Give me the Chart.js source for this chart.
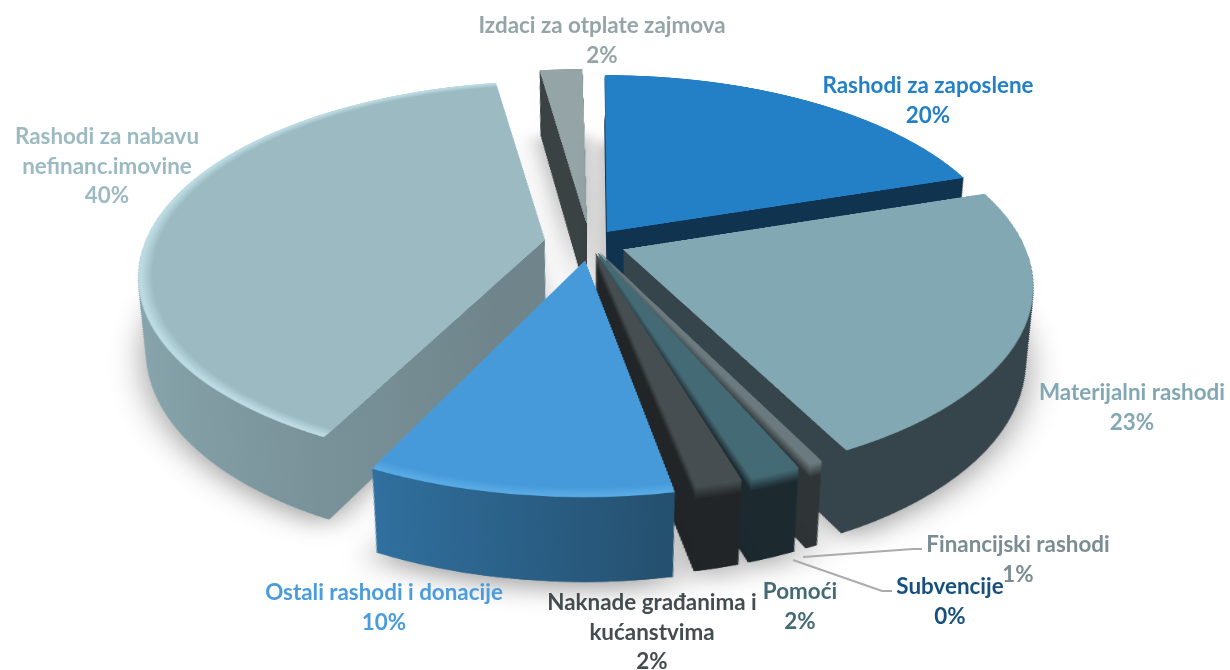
<!DOCTYPE html>
<html>
<head>
<meta charset="utf-8">
<script src="https://cdn.jsdelivr.net/npm/chart.js@4"></script>
<style>
html,body{margin:0;padding:0;background:#fff;width:1230px;height:670px;overflow:hidden}
#stage{position:relative;width:1230px;height:670px;overflow:hidden}
#pie{position:absolute;left:-110px;top:-457px;transform:perspective(2016px) rotateX(62deg);transform-origin:50% 50%}
.lab{position:absolute;font:bold 22.4px/29.5px Lato,sans-serif;text-align:center;transform:translateX(-50%)}
svg{position:absolute;left:0;top:0}
</style>
</head>
<body>
<div id="stage">
<canvas id="pie" width="1400" height="1400"></canvas>
<svg width="1230" height="670"><polyline points="803,557 913,549 922,549" fill="none" stroke="#ababab" stroke-width="2"/><polyline points="793,560 882,591 892,591" fill="none" stroke="#ababab" stroke-width="2"/></svg>
</div>
<script>
const categories = ['Rashodi za zaposlene','Materijalni rashodi','Financijski rashodi','Subvencije','Pomoći','Naknade građanima i kućanstvima','Ostali rashodi i donacije','Rashodi za nabavu nefinanc.imovine','Izdaci za otplate zajmova'];
const values = [20, 22.5, 0.7, 0.1, 1.9, 1.75, 10.35, 40.21, 2.49];
const percentText = ['20%','23%','1%','0%','2%','2%','10%','40%','2%'];
const topColors = ['#2480c6','#82a8b3','#6a7a7e','#0e3a5e','#446b75','#464e51','#469ada','#9bbac2','#95a5a7'];
const wallLeft  = ['#10344f','#36454b','#2f3536','#0a2a44','#1c2a30','#212527','#30709f','#8aa8b0','#3b4244'];
const wallRight = ['#10344f','#36454b','#2f3536','#0a2a44','#1c2a30','#212527','#25506f','#6f858b','#3b4244'];
const rimColors = ['#2480c6','#82a8b3','#6a7a7e','#0e3a5e','#446b75','#464e51','#58aae4','#bcdae1','#95a5a7'];
const roundedEdge = [0, 0, 1, 0, 1, 1, 0, 0, 0];
const radiusGain = [0, 0, 10, 10, 10, 10, 0, 0, 0];
const sliceOffsets = [120, 144, 88, 88, 88, 88, 152, 184, 172];
const paintOrder = [8, 0, 7, 1, 2, 3, 4, 5, 6];
const labelPlaces = [[928,70],[1132,377],[1018,529],[950,571],[800,576],[652,587],[384,577],[107,121],[602,10]];
const labelWidths = [260,260,260,160,120,240,300,220,320];
const textColors = ['#2480c6','#82a8b3','#7a8d92','#17507e','#446b75','#444c4f','#4a9cdc','#9bbac2','#95a5a7'];

const DEPTH = 146, STEP = 1.25, SHRINK = 0.08, BEVEL = 24;

function mix(a, b, t){
  const p = h => [1,3,5].map(k=>parseInt(h.substr(k,2),16));
  const A = p(a), B = p(b);
  return 'rgb(' + A.map((v,k)=>Math.round(v+(B[k]-v)*t)).join(',') + ')';
}
function withColor(el, color, fn){
  const saved = el.options;
  const o = Object.create(saved);
  Object.defineProperty(o,'backgroundColor',{value:color});
  el.options = o;
  fn();
  el.options = saved;
}
function wallGradient(ctx, el, i, t){
  const mid = (el.startAngle + el.endAngle)/2, off = sliceOffsets[i]/4;
  const cx = el.x + Math.cos(mid)*off;
  let lo = cx, hi = cx;
  for(let k=0;k<=24;k++){
    const a = el.startAngle + (el.endAngle-el.startAngle)*k/24;
    const x = cx + Math.cos(a)*el.outerRadius;
    lo = Math.min(lo,x); hi = Math.max(hi,x);
  }
  const g = ctx.createLinearGradient(lo,0,hi,0);
  g.addColorStop(0,mix(topColors[i],wallLeft[i],t));
  g.addColorStop(1,mix(topColors[i],wallRight[i],t));
  return g;
}
function atDepth(ctx, el, d, fn){
  const s = 1 - SHRINK*d/DEPTH;
  ctx.save();
  ctx.translate(el.x, el.y + d);
  ctx.scale(s,s);
  ctx.translate(-el.x,-el.y);
  fn();
  ctx.restore();
}
const extrude = {
  id:'extrude',
  beforeDatasetDraw(chart){
    const ctx = chart.ctx, arcs = chart.getDatasetMeta(0).data;
    paintOrder.forEach(i=>{
      const el = arcs[i];
      const r0 = el.outerRadius;
      // the library widens an offset arc by this much; cancel it so slices keep a chosen radius
      const r = r0 + radiusGain[i] - (sliceOffsets[i]/4)*(1 - Math.sin(Math.min(Math.PI, el.circumference)));
      el.outerRadius = r;
      const wall = wallGradient(ctx, el, i, 1);
      atDepth(ctx, el, DEPTH, ()=>{
        ctx.shadowColor = 'rgba(0,0,0,0.38)';
        ctx.shadowBlur = 30;
        ctx.shadowOffsetY = 8;
        withColor(el, wall, ()=>el.draw(ctx));
      });
      for(let d=DEPTH;d>=0;d-=STEP){
        const c = (roundedEdge[i] && d<BEVEL) ? wallGradient(ctx, el, i, d/BEVEL) : wall;
        atDepth(ctx, el, d, ()=>withColor(el, c, ()=>el.draw(ctx)));
      }
      const steps = 6, band = 11;
      el.outerRadius = r;
      withColor(el, rimColors[i], ()=>el.draw(ctx));
      for(let k=1;k<=steps;k++){
        el.outerRadius = r - 2 - band*k/steps;
        withColor(el, mix(rimColors[i],topColors[i],k/steps), ()=>el.draw(ctx));
      }
      el.outerRadius = r0;
    });
    return false;
  }
};
new Chart(document.getElementById('pie'),{
  type:'pie',
  data:{labels:categories,datasets:[{data:values,backgroundColor:topColors,borderWidth:0,offset:sliceOffsets}]},
  options:{responsive:false,animation:false,devicePixelRatio:1,radius:400,layout:{padding:0},
    plugins:{legend:{display:false},tooltip:{enabled:false}}},
  plugins:[extrude]
});
const stage = document.getElementById('stage');
categories.forEach((name,i)=>{
  const d = document.createElement('div');
  d.className = 'lab';
  d.style.left = labelPlaces[i][0]+'px';
  d.style.top = labelPlaces[i][1]+'px';
  d.style.width = labelWidths[i]+'px';
  d.style.color = textColors[i];
  d.innerHTML = name + '<br>' + percentText[i];
  stage.appendChild(d);
});
</script>
</body>
</html>
